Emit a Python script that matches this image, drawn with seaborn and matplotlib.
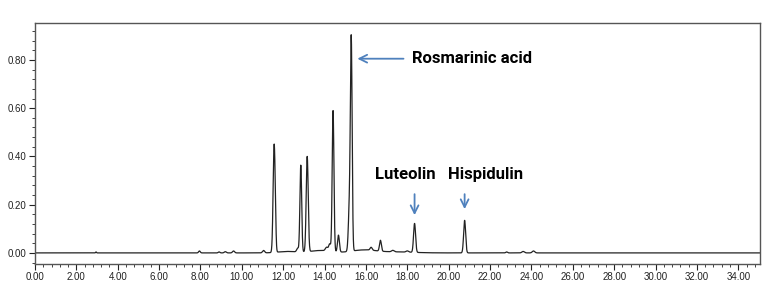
import numpy as np
import pandas as pd
import matplotlib
matplotlib.use("Agg")
import matplotlib.pyplot as plt
import seaborn as sns
from matplotlib.ticker import MultipleLocator, FormatStrFormatter

# Peak table (retention time in min, height in AU, width sigma in min)
peak_rt     = [2.95, 7.95, 8.9, 9.2, 9.6, 11.05, 11.56, 11.62, 12.7, 12.85, 13.16, 14.1, 14.25, 14.41, 14.67, 15.20, 15.29, 16.25, 16.70, 17.3, 18.0, 18.35, 20.77, 22.8, 23.6, 24.1]
peak_height = [0.004, 0.008, 0.004, 0.005, 0.008, 0.010, 0.440, 0.060, 0.015, 0.360, 0.395, 0.015, 0.030, 0.585, 0.070, 0.180, 0.860, 0.012, 0.045, 0.006, 0.005, 0.120, 0.135, 0.004, 0.006, 0.008]
peak_sigma  = [0.02, 0.04, 0.04, 0.05, 0.05, 0.05, 0.048, 0.03, 0.05, 0.042, 0.048, 0.06, 0.05, 0.042, 0.045, 0.050, 0.042, 0.05, 0.045, 0.06, 0.06, 0.048, 0.048, 0.04, 0.06, 0.06]
# broad humps of elevated baseline (rt, height, sigma)
hump_rt     = [12.2, 13.8, 15.9, 17.5]
hump_height = [0.006, 0.010, 0.012, 0.004]
hump_sigma  = [0.45, 0.5, 0.6, 0.8]

x_ticks = [0, 2, 4, 6, 8, 10, 12, 14, 16, 18, 20, 22, 24, 26, 28, 30, 32, 34]
y_ticks = [0.0, 0.2, 0.4, 0.6, 0.8]

t = np.linspace(0, 35.1, 7000)
signal = np.zeros_like(t)
for c, h, s in zip(peak_rt + hump_rt, peak_height + hump_height, peak_sigma + hump_sigma):
    signal += h * np.exp(-0.5 * ((t - c) / s) ** 2)
df = pd.DataFrame({"time": t, "signal": signal})

sns.set_theme(style="white")
plt.rcParams['font.family'] = ['Liberation Sans', 'DejaVu Sans']

fig = plt.figure(figsize=(7.81, 2.93), dpi=100)
ax = fig.add_axes([35 / 781, 1 - 264 / 293, (760 - 35) / 781, (264 - 23) / 293])

sns.lineplot(data=df, x="time", y="signal", ax=ax, color="#222222", linewidth=0.9)

ax.set_xlim(0, 35.05)
ax.set_ylim(-0.046, 0.953)
ax.set_xticks(x_ticks)
ax.set_yticks(y_ticks)
ax.xaxis.set_major_formatter(FormatStrFormatter('%.2f'))
ax.yaxis.set_major_formatter(FormatStrFormatter('%.2f'))
ax.xaxis.set_minor_locator(MultipleLocator(0.4))
ax.yaxis.set_minor_locator(MultipleLocator(0.04))
ax.tick_params(axis='both', which='major', direction='out', length=4, width=0.8,
               labelsize=7, colors='#222222', bottom=True, left=True, pad=2)
ax.tick_params(axis='both', which='minor', direction='out', length=2, width=0.6,
               colors='#222222', bottom=True, left=True)
ax.set_xlabel("")
ax.set_ylabel("")
for sp in ax.spines.values():
    sp.set_color('#555555')
    sp.set_linewidth(1.0)
ax.grid(False)

arrow_color = "#4f81bd"
txt_kw = dict(fontsize=12, fontweight='bold', family=['Roboto', 'DejaVu Sans'], color='black')

ax.annotate("", xy=(15.45, 0.805), xytext=(17.95, 0.805),
            arrowprops=dict(arrowstyle='->', color=arrow_color, lw=1.3, mutation_scale=14))
ax.text(18.25, 0.805, "Rosmarinic acid", va='center', ha='left', **txt_kw)

ax.text(17.9, 0.327, "Luteolin", va='center', ha='center', **txt_kw)
ax.annotate("", xy=(18.35, 0.145), xytext=(18.35, 0.255),
            arrowprops=dict(arrowstyle='->', color=arrow_color, lw=1.3, mutation_scale=14))
ax.text(21.76, 0.327, "Hispidulin", va='center', ha='center', **txt_kw)
ax.annotate("", xy=(20.77, 0.17), xytext=(20.77, 0.255),
            arrowprops=dict(arrowstyle='->', color=arrow_color, lw=1.3, mutation_scale=14))

fig.savefig("out.png", dpi=100)
